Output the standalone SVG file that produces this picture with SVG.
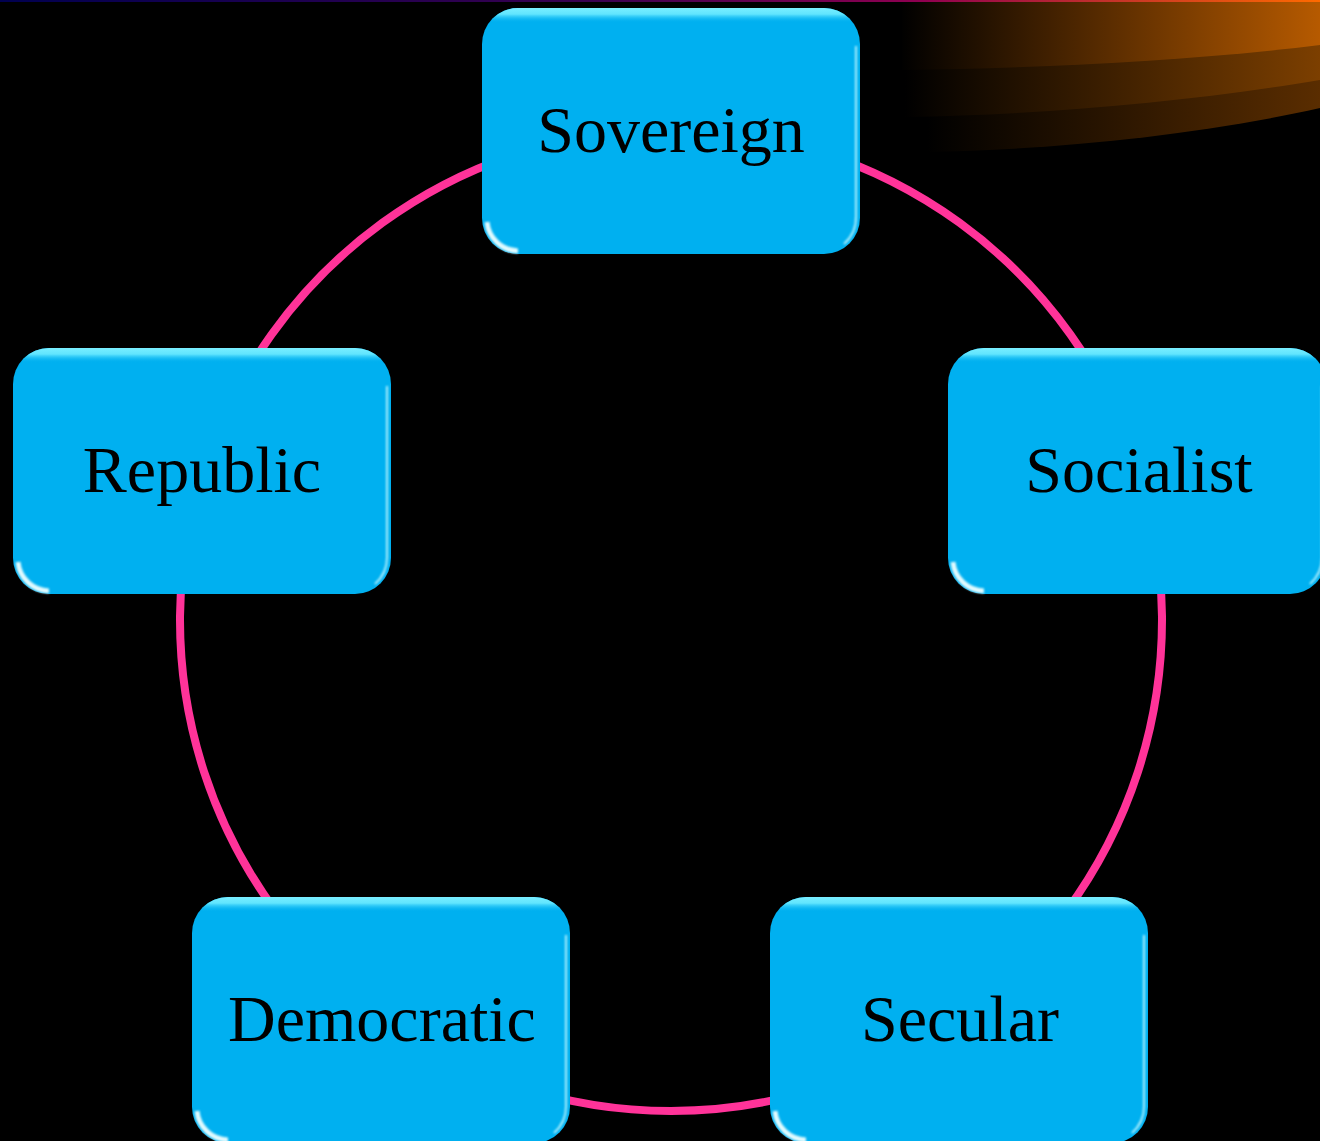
<svg xmlns="http://www.w3.org/2000/svg" width="1320" height="1141" viewBox="0 0 1320 1141">
  <defs>
    <style>
      .lbl { font-family: "Liberation Serif", "Times New Roman", serif; font-size: 66px; fill: #000; text-anchor: middle; }
      .arc { fill: none; stroke: #FF3399; stroke-width: 8; }
    </style>
    <linearGradient id="topline" x1="0" y1="0" x2="1320" y2="0" gradientUnits="userSpaceOnUse">
      <stop offset="0" stop-color="#000050"/>
      <stop offset="0.45" stop-color="#3a0050"/>
      <stop offset="0.7" stop-color="#900050"/>
      <stop offset="1" stop-color="#FF6A00"/>
    </linearGradient>
    <linearGradient id="b1" x1="900" y1="0" x2="1320" y2="0" gradientUnits="userSpaceOnUse">
      <stop offset="0" stop-color="#000000"/>
      <stop offset="1" stop-color="#B65A00"/>
    </linearGradient>
    <linearGradient id="b2" x1="905" y1="0" x2="1320" y2="0" gradientUnits="userSpaceOnUse">
      <stop offset="0" stop-color="#000000"/>
      <stop offset="1" stop-color="#7C3F00"/>
    </linearGradient>
    <linearGradient id="b3" x1="927" y1="0" x2="1320" y2="0" gradientUnits="userSpaceOnUse">
      <stop offset="0" stop-color="#000000"/>
      <stop offset="1" stop-color="#5A2D00"/>
    </linearGradient>
    <linearGradient id="gloss" x1="0" y1="0" x2="0" y2="1">
      <stop offset="0" stop-color="#7AEEFF" stop-opacity="1"/>
      <stop offset="0.025" stop-color="#66E8FF" stop-opacity="0.95"/>
      <stop offset="0.06" stop-color="#00B0F0" stop-opacity="0"/>
      <stop offset="1" stop-color="#00B0F0" stop-opacity="0"/>
    </linearGradient>
    <filter id="soft" x="-20%" y="-20%" width="140%" height="140%">
      <feGaussianBlur stdDeviation="1"/>
    </filter>
    <g id="box">
      <rect x="0" y="0" width="378" height="246" rx="36" ry="36" fill="#00B0F0"/>
      <rect x="0" y="0" width="378" height="246" rx="36" ry="36" fill="url(#gloss)"/>
      <path d="M374,38 V208 A36 36 0 0 1 362,236" stroke="#C8F8FF" stroke-width="2" fill="none" opacity="0.85" filter="url(#soft)"/>
      <path d="M4,42 V204" stroke="#40D0FA" stroke-width="3" fill="none" opacity="0.5" filter="url(#soft)"/>
      <path d="M5,214 A32 32 0 0 0 36,243" stroke="#EFFFFF" stroke-width="5" fill="none" opacity="0.95" filter="url(#soft)"/>
    </g>
  </defs>

  <rect x="0" y="0" width="1320" height="1141" fill="#000"/>

  <g id="decoration">
    <path d="M927,0 H1320 V108 C1200,135 1050,150 927,152 Z" fill="url(#b3)"/>
    <path d="M905,0 H1320 V80 C1200,100 1050,115 905,117 Z" fill="url(#b2)"/>
    <path d="M902,0 H1320 V45 C1200,60 1050,68 902,70 Z" fill="url(#b1)"/>
    <rect x="0" y="0" width="1320" height="2" fill="url(#topline)"/>
  </g>

  <g id="connectors">
    <path class="arc" d="M671,129 A491 491 0 0 1 1137.97,468.27"/>
    <path class="arc" d="M1137.97,468.27 A491 491 0 0 1 959.6,1017.23"/>
    <path class="arc" d="M959.6,1017.23 A491 491 0 0 1 382.4,1017.23"/>
    <path class="arc" d="M382.4,1017.23 A491 491 0 0 1 204.03,468.27"/>
    <path class="arc" d="M204.03,468.27 A491 491 0 0 1 671,129"/>
  </g>

  <g id="node-sovereign" transform="translate(482,8)">
    <use href="#box"/>
    <text class="lbl" x="189" y="144">Sovereign</text>
  </g>
  <g id="node-socialist" transform="translate(948,348)">
    <use href="#box"/>
    <text class="lbl" x="191" y="144">Socialist</text>
  </g>
  <g id="node-secular" transform="translate(770,897)">
    <use href="#box"/>
    <text class="lbl" x="190" y="144">Secular</text>
  </g>
  <g id="node-democratic" transform="translate(192,897)">
    <use href="#box"/>
    <text class="lbl" x="190" y="144">Democratic</text>
  </g>
  <g id="node-republic" transform="translate(13,348)">
    <use href="#box"/>
    <text class="lbl" x="189" y="144">Republic</text>
  </g>
</svg>
